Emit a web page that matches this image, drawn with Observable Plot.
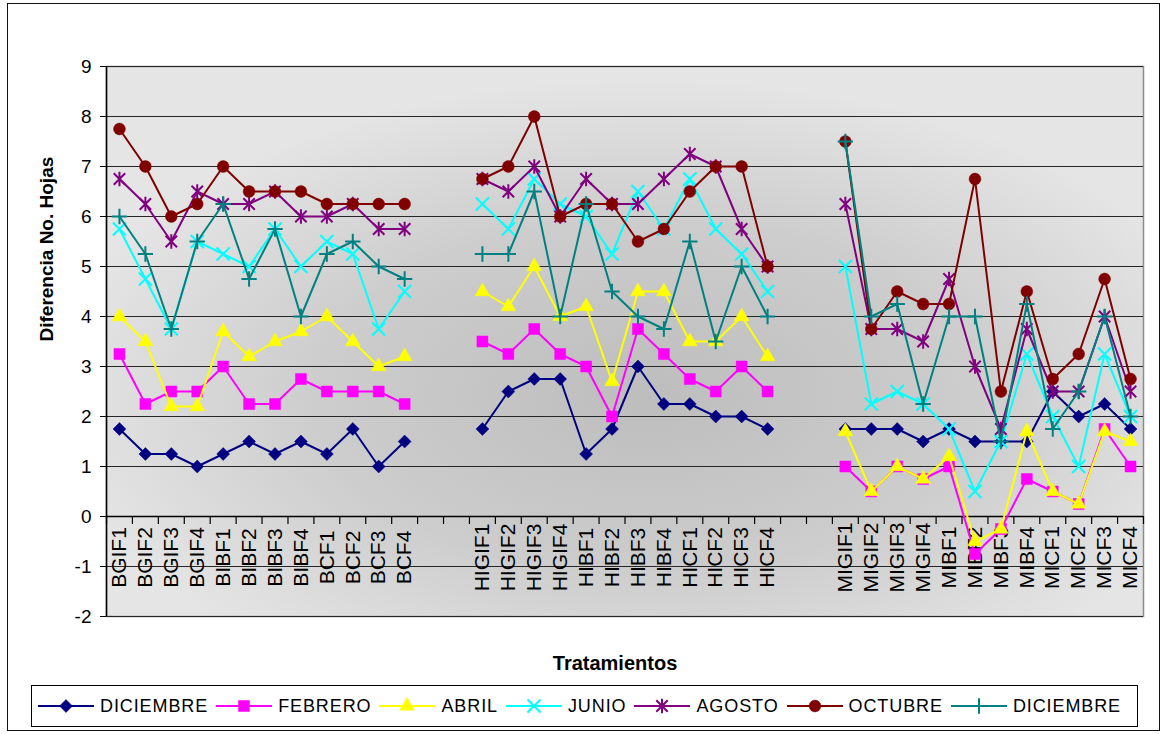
<!DOCTYPE html>
<html><head><meta charset="utf-8">
<script src="https://cdn.jsdelivr.net/npm/d3@7"></script>
<script src="https://cdn.jsdelivr.net/npm/@observablehq/plot@0.6"></script>
<style>
body{margin:0;background:#fff;font-family:"Liberation Sans",Arial,sans-serif;}
#wrap{position:relative;width:1162px;height:734px;overflow:hidden;background:#fff;}
#outer{position:absolute;left:7px;top:3px;width:1153px;height:728px;border:1.5px solid #111;box-sizing:border-box;}
#chart{position:absolute;left:0;top:0;}
#legend{position:absolute;left:31px;top:685px;width:1107px;height:42px;border:1px solid #000;box-sizing:border-box;display:flex;align-items:center;padding-left:6px;font-size:18px;letter-spacing:0.9px;color:#000;}
.item{display:flex;align-items:center;margin-right:8px;white-space:nowrap;}
.item svg{margin-right:6px;}
</style></head><body>
<div id="wrap"><div id="outer"></div><div id="chart"></div><div id="legend"></div></div>
<script>
// ---- categories ----
const group1 = ["BGIF1","BGIF2","BGIF3","BGIF4","BIBF1","BIBF2","BIBF3","BIBF4","BCF1","BCF2","BCF3","BCF4"];
const group2 = ["HIGIF1","HIGIF2","HIGIF3","HIGIF4","HIBF1","HIBF2","HIBF3","HIBF4","HICF1","HICF2","HICF3","HICF4"];
const group3 = ["MIGIF1","MIGIF2","MIGIF3","MIGIF4","MIBF1","MIBF2","MIBF3","MIBF4","MICF1","MICF2","MICF3","MICF4"];
const gapSlots = [["gap1a","gap1b"],["gap2a","gap2b"]];
const yTicks = [-2,-1,0,1,2,3,4,5,6,7,8,9];
const yTitle = "Diferencia No. Hojas";
const xTitle = "Tratamientos";

// ---- series (values for group1, group2, group3 in order) ----
const seriesNames = ["DICIEMBRE","FEBRERO","ABRIL","JUNIO","AGOSTO","OCTUBRE","DICIEMBRE"];
const diciembre1 = [1.75,1.25,1.25,1.0,1.25,1.5,1.25,1.5,1.25,1.75,1.0,1.5,
                    1.75,2.5,2.75,2.75,1.25,1.75,3.0,2.25,2.25,2.0,2.0,1.75,
                    1.75,1.75,1.75,1.5,1.75,1.5,1.5,1.5,2.5,2.0,2.25,1.75];
const febrero = [3.25,2.25,2.5,2.5,3.0,2.25,2.25,2.75,2.5,2.5,2.5,2.25,
                 3.5,3.25,3.75,3.25,3.0,2.0,3.75,3.25,2.75,2.5,3.0,2.5,
                 1.0,0.5,1.0,0.75,1.0,-0.75,-0.25,0.75,0.5,0.25,1.75,1.0];
const abril = [4.0,3.5,2.2,2.2,3.7,3.2,3.5,3.7,4.0,3.5,3.0,3.2,
               4.5,4.2,5.0,4.0,4.2,2.7,4.5,4.5,3.5,3.5,4.0,3.2,
               1.7,0.5,1.0,0.75,1.2,-0.5,-0.25,1.7,0.5,0.25,1.7,1.5];
const junio = [5.75,4.75,3.75,5.5,5.25,5.0,5.75,5.0,5.5,5.25,3.75,4.5,
               6.25,5.75,6.75,6.25,6.0,5.25,6.5,5.75,6.75,5.75,5.25,4.5,
               5.0,2.25,2.5,2.25,1.75,0.5,1.5,3.25,2.0,1.0,3.25,2.0];
const agosto = [6.75,6.25,5.5,6.5,6.25,6.25,6.5,6.0,6.0,6.25,5.75,5.75,
                6.75,6.5,7.0,6.0,6.75,6.25,6.25,6.75,7.25,7.0,5.75,5.0,
                6.25,3.75,3.75,3.5,4.75,3.0,1.75,3.75,2.5,2.5,4.0,2.5];
const octubre = [7.75,7.0,6.0,6.25,7.0,6.5,6.5,6.5,6.25,6.25,6.25,6.25,
                 6.75,7.0,8.0,6.0,6.25,6.25,5.5,5.75,6.5,7.0,7.0,5.0,
                 7.5,3.75,4.5,4.25,4.25,6.75,2.5,4.5,2.75,3.25,4.75,2.75];
const diciembre2 = [6.0,5.25,3.75,5.5,6.25,4.75,5.75,4.0,5.25,5.5,5.0,4.75,
                    5.25,5.25,6.5,4.0,6.25,4.5,4.0,3.75,5.5,3.5,5.0,4.0,
                    7.5,4.0,4.25,2.25,4.0,4.0,1.5,4.25,1.75,2.5,4.0,2.0];
const seriesValues = [diciembre1, febrero, abril, junio, agosto, octubre, diciembre2];

// ---- styles ----
// Excel-style star marker: an X plus a vertical bar
const excelStar = {
  draw(context, size) {
    const r = Math.sqrt(size) * 0.52;
    const v = r * 1.25;
    context.moveTo(-r, -r); context.lineTo(r, r);
    context.moveTo(-r, r); context.lineTo(r, -r);
    context.moveTo(0, -v); context.lineTo(0, v);
  }
};
const seriesColors = ["#000080","#FF00FF","#FFFF00","#00FFFF","#800080","#800000","#008080"];
const seriesSymbols = [d3.symbolDiamond2, d3.symbolSquare, d3.symbolTriangle, d3.symbolTimes, excelStar, d3.symbolCircle, d3.symbolPlus];
const seriesFilled = [true,true,true,false,false,true,false];
const seriesR = [5.8,6.2,5.5,6,6.2,5.9,5.0];

// ---- build ----
const groups = [group1, group2, group3];
const xDomain = [...group1, ...gapSlots[0], ...group2, ...gapSlots[1], ...group3];
const labelCats = [...group1, ...group2, ...group3];

const W = 1162, H = 680, mL = 106, mR = 19, mT = 66, mB = 64;
const step = (W - mL - mR) / xDomain.length;

const rowsBySeries = seriesValues.map((vals, s) => {
  const rows = [];
  groups.forEach((g, gi) => g.forEach((cat, i) => rows.push({s, g: gi, cat, v: vals[gi * 12 + i]})));
  return rows;
});

const seriesMarks = [];
rowsBySeries.forEach((rows, s) => {
  seriesMarks.push(Plot.line(rows, {x: "cat", y: "v", z: "g", stroke: seriesColors[s], strokeWidth: 2}));
  seriesMarks.push(Plot.dot(rows, seriesFilled[s]
    ? {x: "cat", y: "v", symbol: seriesSymbols[s], r: seriesR[s], fill: seriesColors[s], stroke: seriesColors[s], strokeWidth: 0.5}
    : {x: "cat", y: "v", symbol: seriesSymbols[s], r: seriesR[s], fill: "none", stroke: seriesColors[s], strokeWidth: 2}));
});

const chart = Plot.plot({
  width: W, height: H,
  marginLeft: mL, marginRight: mR, marginTop: mT, marginBottom: mB,
  style: {fontFamily: '"Liberation Sans", Arial, sans-serif', fontSize: "18px", color: "#000", background: "transparent", overflow: "visible"},
  x: {type: "point", domain: xDomain, padding: 0.5, axis: null},
  y: {domain: [-2, 9], axis: null},
  marks: [
    Plot.frame({fill: "url(#plotbg)", stroke: "#8c8c8c", strokeWidth: 1.5}),
    Plot.gridY(yTicks, {stroke: "#262626", strokeOpacity: 1, strokeWidth: 1.2}),
    Plot.ruleY([0], {stroke: "#000", strokeWidth: 1.5}),
    Plot.ruleX(xDomain, {x: d => d, y1: 0, y2: 0, insetBottom: -8, dx: -step / 2, stroke: "#000", strokeWidth: 1.2}),
    Plot.ruleX(xDomain.slice(-1), {x: d => d, y1: 0, y2: 0, insetBottom: -8, dx: step / 2, stroke: "#000", strokeWidth: 1.2}),
    Plot.text(labelCats, {x: d => d, y: 0, text: d => d, rotate: -90, dy: 41, fontSize: 21, textAnchor: "middle", lineAnchor: "middle", fill: "#000"}),
    Plot.ruleX(xDomain.slice(0, 1), {x: d => d, dx: -step / 2, stroke: "#000", strokeWidth: 1.5}),
    Plot.axisY(yTicks, {tickSize: 6, tickPadding: 9, fontSize: 19, tickFormat: d => String(d), label: null, stroke: "#000"}),
    Plot.text([yTitle], {text: d => d, frameAnchor: "left", dx: -60, rotate: -90, fontSize: 19, fontWeight: "bold", fill: "#000"}),
    Plot.text([xTitle], {text: d => d, frameAnchor: "bottom", dy: 53, dx: -10, fontSize: 20, fontWeight: "bold", fill: "#000", letterSpacing: "1.6px"}),
    ...seriesMarks
  ]
});

// gradient background for the plot area
const ns = "http://www.w3.org/2000/svg";
const defs = document.createElementNS(ns, "defs");
defs.innerHTML = '<radialGradient id="plotbg" cx="0.52" cy="0.6" r="0.58"><stop offset="0" stop-color="#bdbdbd"/><stop offset="0.55" stop-color="#cdcdcd"/><stop offset="1" stop-color="#e5e5e5"/></radialGradient>';
chart.insertBefore(defs, chart.firstChild);
document.getElementById("chart").appendChild(chart);

// legend
const legend = document.getElementById("legend");
seriesNames.forEach((name, s) => {
  const item = document.createElement("div");
  item.className = "item";
  const svg = d3.create("svg").attr("width", 56).attr("height", 20);
  svg.append("line").attr("x1", 0).attr("x2", 56).attr("y1", 10).attr("y2", 10).attr("stroke", seriesColors[s]).attr("stroke-width", 2);
  const path = d3.symbol(seriesSymbols[s], Math.PI * seriesR[s] * seriesR[s])();
  const p = svg.append("path").attr("d", path).attr("transform", "translate(28,10)");
  if (seriesFilled[s]) p.attr("fill", seriesColors[s]).attr("stroke", seriesColors[s]).attr("stroke-width", 0.5);
  else p.attr("fill", "none").attr("stroke", seriesColors[s]).attr("stroke-width", 2);
  item.appendChild(svg.node());
  const span = document.createElement("span");
  span.textContent = name;
  item.appendChild(span);
  legend.appendChild(item);
});
</script>
</body></html>
